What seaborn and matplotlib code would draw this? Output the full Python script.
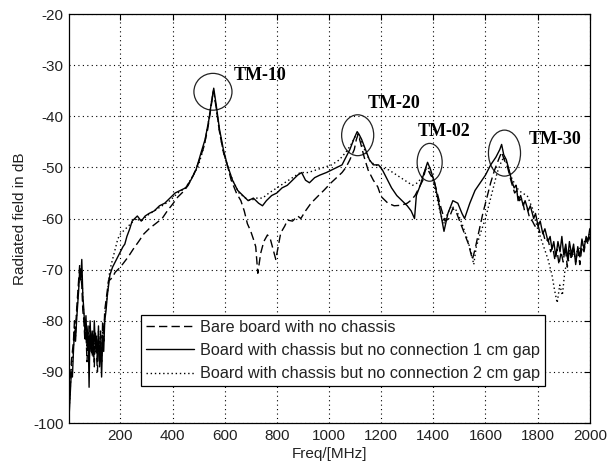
import matplotlib
matplotlib.use("Agg")
import matplotlib.pyplot as plt
from matplotlib.patches import Ellipse
import seaborn as sns
import pandas as pd

# ---------------- data ----------------
legend_labels = [
    "Bare board with no chassis",
    "Board with chassis but no connection 1 cm gap",
    "Board with chassis but no connection 2 cm gap",
]

# Bare board with no chassis (dashed)
bare_freq = [4, 8, 12, 16, 20, 24, 28, 32, 36, 40, 44, 48, 52, 56, 60, 64, 68, 72, 76, 80,
             84, 88, 92, 96, 100, 104, 108, 112, 116, 120, 124, 128, 132, 136, 140, 145, 150,
             155, 160, 170, 180, 190, 200, 215, 230, 249, 270, 290, 310, 340, 360, 380, 400,
             420, 440, 460, 480, 500, 520, 535, 548, 557, 568, 580, 595, 610, 625, 645, 662,
             675, 687, 700, 710, 719, 727, 738, 750, 764, 775, 783, 796, 805, 815, 830, 841,
             860, 880, 892, 910, 931, 956, 980, 1008, 1033, 1050, 1065, 1080, 1097, 1105,
             1112, 1120, 1135, 1150, 1170, 1187, 1200, 1226, 1250, 1277, 1300, 1315, 1330,
             1345, 1360, 1372, 1380, 1390, 1400, 1415, 1430, 1445, 1460, 1475, 1490, 1505,
             1520, 1535, 1550, 1560, 1575, 1590, 1605, 1620, 1635, 1650, 1662, 1672, 1685,
             1700, 1712, 1720, 1730, 1740, 1750, 1760, 1770, 1780, 1790, 1800, 1810, 1820,
             1830, 1840, 1850, 1858, 1866, 1874, 1882, 1890, 1898, 1906, 1914, 1922, 1930,
             1938, 1946, 1954, 1962, 1970, 1978, 1986, 1993, 2000]
bare_db = [-96, -92, -88, -86, -84, -80, -82, -78, -75, -72, -69, -71, -73, -78, -80, -84,
           -82, -88, -83, -86, -81, -84, -87, -83, -89, -82, -86, -90, -84, -86, -82, -88,
           -80, -84, -78, -76, -74, -72, -72, -71.5, -70.5, -70, -69.5, -68.5, -67.5, -66,
           -64.5, -63, -62, -60.8, -60, -58.5, -57.2, -55.8, -54.8, -53.5, -51.5, -49, -46,
           -42.5, -38, -35, -38.5, -43, -47, -49.5, -52.5, -55, -56.5, -58.5, -61, -62.5,
           -64, -65.5, -70.7, -66.8, -64.5, -63.2, -64, -65.5, -68, -65.5, -62.8, -61.5,
           -60.3, -60.5, -59.5, -60, -58.5, -57, -55.7, -54.5, -53, -51.8, -51, -50, -48.5,
           -46.5, -44.5, -43.5, -45, -48, -50.5, -52.5, -53.8, -55.7, -57, -57.5, -57.4, -57,
           -56.4, -55.5, -54, -52.5, -50, -50.5, -51.5, -52, -55, -58, -60.5, -60, -58, -59,
           -61, -63, -65, -68, -66, -62.5, -59, -56, -53, -50.5, -48.5, -47, -48.5, -50,
           -53, -55, -54.5, -56.5, -56, -58.5, -58, -60, -60.5, -61.5, -61, -63, -62.5,
           -64.5, -64, -66.5, -65.5, -68, -66, -69, -66.5, -68.5, -65.5, -69.5, -66, -68,
           -65.5, -68.5, -66, -69, -65.5, -66.5, -64, -65, -63.5]

# Board with chassis, 1 cm gap (solid)
gap1_freq = [4, 8, 12, 16, 20, 24, 28, 32, 36, 40, 44, 48, 52, 56, 60, 64, 68, 72, 76, 80,
             84, 88, 92, 96, 100, 104, 108, 112, 116, 120, 124, 128, 132, 136, 140, 145, 150,
             155, 160, 170, 180, 190, 200, 210, 217, 225, 236, 245, 255, 265, 280, 295, 310,
             330, 350, 370, 390, 410, 430, 450, 470, 490, 510, 525, 540, 550, 558, 568, 580,
             595, 610, 630, 650, 670, 690, 710, 730, 745, 760, 780, 800, 820, 840, 860, 880,
             895, 910, 925, 945, 965, 990, 1010, 1030, 1050, 1065, 1080, 1095, 1108, 1115,
             1125, 1140, 1155, 1170, 1190, 1205, 1220, 1240, 1260, 1280, 1300, 1315, 1328,
             1335, 1350, 1365, 1378, 1390, 1405, 1423, 1441, 1456, 1475, 1494, 1510, 1520,
             1540, 1560, 1580, 1600, 1620, 1640, 1655, 1662, 1670, 1680, 1693,
             1700, 1710, 1718, 1725, 1735, 1745, 1752, 1764, 1772, 1785, 1792, 1802, 1810,
             1820, 1828, 1840, 1848, 1855, 1862, 1870, 1878, 1886, 1893, 1900, 1908, 1915,
             1922, 1930, 1938, 1946, 1954, 1962, 1970, 1978, 1986, 1993, 2000]
gap1_db = [-98, -94, -90, -91, -86, -82, -84, -80, -77, -74, -70, -72, -68, -75, -78, -82,
           -79, -85, -81, -93, -80, -86, -82, -87, -80, -85, -83, -88, -81, -89, -84, -91, -83,
           -86, -80, -78, -75, -73, -71, -69.5, -68.5, -67.5, -66.5, -65.5, -65, -63.5, -62,
           -60.5, -60, -59.5, -60.5, -59.5, -59, -58.5, -57.5, -57, -56, -55, -54.5, -54,
           -52.5, -50.5, -47, -44.5, -40.5, -37, -34.5, -38, -42.5, -46.5, -49.5, -52.5,
           -54.5, -55.5, -56.5, -56, -57, -57.5, -56.5, -55.5, -55, -54, -53.5, -52.5, -51.5,
           -51, -52.5, -53, -52, -51.5, -51, -50.5, -50, -49.5, -48, -46.5, -44.5, -43,
           -43.5, -44.5, -46.5, -48.5, -49.5, -49.5, -50.5, -52, -54, -55.5, -56.5, -57.5,
           -58.5, -60, -55.5, -53.5, -51, -49, -50.5, -53, -57.5, -62.5, -59, -56.5, -57, -59,
           -60, -57, -54.5, -53, -51.5, -49.5, -48, -46.5, -45.5, -47.5, -48.5, -51,
           -52.5, -54, -53.5, -56.5, -55.5, -57.5, -56.5, -58.5, -57.5, -60, -59, -61.5,
           -60.5, -63, -62, -64.5, -63.5, -66, -64.5, -67.5, -64.5, -66.5, -63.5, -67, -65,
           -68, -64.5, -67, -65, -69, -65.5, -67.5, -64, -66, -63.5, -64.5, -62]

# Board with chassis, 2 cm gap (dotted)
gap2_freq = [4, 8, 12, 16, 20, 24, 28, 32, 36, 40, 44, 48, 52, 56, 60, 64, 68, 72, 76, 80,
             84, 88, 92, 96, 100, 104, 108, 112, 116, 120, 124, 128, 132, 136, 140, 145, 150,
             155, 160, 170, 180, 190, 200, 220, 240, 260, 280, 300, 330, 360, 390, 420, 450,
             480, 500, 520, 535, 548, 557, 568, 580, 595, 615, 635, 655, 680, 700, 720, 745,
             770, 800, 830, 860, 890, 920, 950, 980, 1010, 1040, 1065, 1085, 1100, 1110, 1125,
             1140, 1160, 1180, 1200, 1230, 1260, 1290, 1320, 1340, 1355, 1370, 1380, 1395,
             1410, 1425, 1440, 1455, 1470, 1490, 1510, 1530, 1545, 1555, 1565, 1580, 1600,
             1615, 1630, 1645, 1660, 1670, 1680, 1690, 1700, 1720, 1740, 1760, 1780, 1800,
             1820, 1840, 1855, 1865, 1875, 1885, 1895, 1905, 1920, 1940, 1960, 1980, 2000]
gap2_db = [-97, -93, -89, -88, -85, -81, -83, -79, -76, -73, -71, -72, -70, -76, -79, -83,
           -80, -86, -82, -88, -82, -85, -84, -85, -82, -86, -84, -87, -82, -87, -83, -87, -82,
           -84, -79, -77, -75, -72, -70, -68, -66, -64, -63, -62, -61, -60, -60.5, -59.5,
           -58.5, -57.5, -56.5, -55, -54, -51.5, -49.5, -46, -42, -37.5, -35, -38.5, -43, -47,
           -50.5, -53, -55, -56, -56.5, -56, -56, -55, -54, -53, -52, -51, -51, -50.5, -50,
           -49.5, -48.5, -47, -45.5, -44, -43.5, -45, -47, -49, -49.5, -50, -50.5, -51.5,
           -52.5, -53.5, -53, -52, -50.5, -50, -52, -55, -58.5, -61, -59, -57.5, -58.5, -61,
           -64, -66.5, -69, -65.5, -63, -60, -57, -54, -51, -49, -48, -49, -50.5, -52, -54,
           -55, -55.5, -58, -62, -65, -68, -71, -74, -76.5, -73, -75, -70, -68, -67, -66,
           -64.5, -63]

mode_labels = ["TM-10", "TM-20", "TM-02", "TM-30"]
mode_freq = [555, 1110, 1386, 1673]
mode_db = [-35.2, -43.7, -49.0, -47.2]

x_ticks = list(range(200, 2001, 200))
y_ticks = list(range(-100, -19, 10))

# ---------------- drawing ----------------
sns.set_theme(style="white")
plt.rcParams["font.family"] = ["Liberation Sans", "DejaVu Sans"]
plt.rcParams["axes.unicode_minus"] = False

fig = plt.figure(figsize=(6.08, 4.69), dpi=100)
ax = fig.add_axes([0.1135, 0.098, 0.8565, 0.872])

series = [
    (bare_freq, bare_db, (0, (6, 3))),
    (gap1_freq, gap1_db, "-"),
    (gap2_freq, gap2_db, (0, (1, 2))),
]
for (fx, fy, ls), lab in zip(series, legend_labels):
    df = pd.DataFrame({"freq": fx, "db": fy})
    sns.lineplot(data=df, x="freq", y="db", ax=ax, color="black", linewidth=1.0,
                 linestyle=ls, label=lab, estimator=None, sort=False)

# resonance circles and labels
ell_size = [(146, 7.2), (123, 8.0), (96, 7.4), (123, 9.0)]
lab_pos = [(634, -32.1), (1150, -37.4), (1342, -43.0), (1765, -44.6)]
for (w, h), cx, cy, (tx, ty), name in zip(ell_size, mode_freq, mode_db, lab_pos, mode_labels):
    ax.add_patch(Ellipse((cx, cy), w, h, fill=False, edgecolor="#222222", linewidth=0.9))
    ax.text(tx, ty, name, fontsize=13, fontweight="bold", family="Liberation Serif",
            va="center", ha="left", color="black")

ax.set_xlim(3, 2000)
ax.set_ylim(-100, -20)
ax.set_xticks(x_ticks)
ax.set_yticks(y_ticks)
ax.tick_params(direction="in", length=4, width=0.8, top=True, right=True,
               labelsize=11, colors="black", pad=4)
for lbl in ax.get_xticklabels() + ax.get_yticklabels():
    lbl.set_color("#222222")
ax.grid(True, linestyle=(0, (1, 3)), color="black", linewidth=0.8)
for s in ax.spines.values():
    s.set_visible(True)
    s.set_color("black")
    s.set_linewidth(0.9)

ax.set_xlabel("Freq/[MHz]", fontsize=11, color="#222222", labelpad=3)
ax.set_ylabel("Radiated field in dB", fontsize=11, color="#222222", labelpad=4)

leg = ax.legend(loc="upper left", bbox_to_anchor=(0.138, 0.264), fontsize=11.7,
                frameon=True, fancybox=False, framealpha=1, edgecolor="black",
                handlelength=3.0, handletextpad=0.35, labelspacing=0.5,
                borderpad=0.3, borderaxespad=0)
leg.get_frame().set_linewidth(0.9)
for t in leg.get_texts():
    t.set_color("#222222")

fig.savefig("out.png", dpi=100, facecolor="white")
